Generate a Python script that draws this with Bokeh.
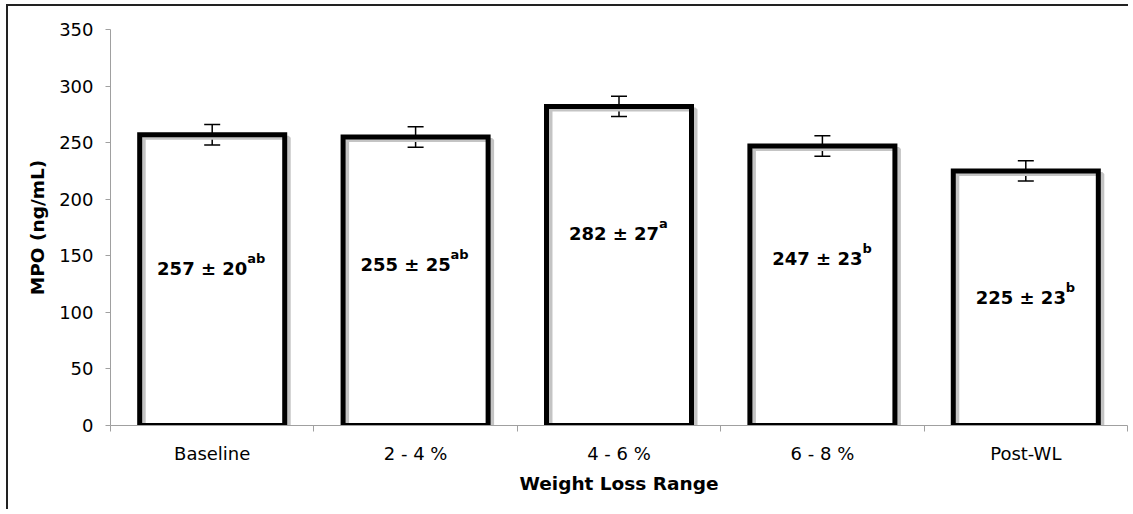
from bokeh.plotting import figure
from bokeh.models import Range1d, FixedTicker, ColumnDataSource, Whisker, TeeHead
from bokeh.core.properties import value
from bokeh.embed import file_html
from bokeh.resources import INLINE

categories = ["Baseline", "2 - 4 %", "4 - 6 %", "6 - 8 %", "Post-WL"]
means = [257, 255, 282, 247, 225]
errors = [9, 9, 9, 9, 9]
sds = [20, 25, 27, 23, 23]
letters = ["ab", "ab", "a", "b", "b"]
label_heights = [139, 142, 170, 148, 113]

FONT = "DejaVu Sans"

xs = [i + 0.5 for i in range(len(categories))]

p = figure(width=1122, height=505, output_backend="svg", toolbar_location=None,
           x_range=Range1d(0, len(categories)), y_range=Range1d(0, 350),
           min_border_left=102, min_border_top=23, min_border_bottom=86, min_border_right=3)
p.styles = {"border-top": "2px solid #222222", "border-left": "2px solid #222222",
            "margin-top": "4px", "margin-left": "6px"}
p.outline_line_color = None
p.xgrid.visible = False
p.ygrid.visible = False
p.background_fill_color = "white"
p.border_fill_color = "white"

# shadow outline (offset a few pixels right/down)
dx = 4 / 203.4
dy = 3 * 350 / 396
shadow = ColumnDataSource(dict(x=[x + dx for x in xs], top=[m - dy for m in means]))
p.vbar(x="x", top="top", bottom=0, width=0.713, source=shadow,
       fill_color=None, line_color="#c4c4c4", line_width=4)

src = ColumnDataSource(dict(x=xs, top=means,
                            upper=[m + e for m, e in zip(means, errors)],
                            lower=[m - e for m, e in zip(means, errors)]))
p.vbar(x="x", top="top", bottom=0, width=0.713, source=src,
       fill_color=None, line_color="black", line_width=5, line_join="miter")

w = Whisker(base="x", upper="upper", lower="lower", source=src,
            line_color="black", line_width=1.5,
            upper_head=TeeHead(size=16, line_color="black", line_width=1.5),
            lower_head=TeeHead(size=16, line_color="black", line_width=1.5))
p.add_layout(w)

# value labels
main_txt = [f"{m} \u00b1 {s}" for m, s in zip(means, sds)]
lab = ColumnDataSource(dict(x=xs, y=label_heights, t=main_txt, sup=letters,
                            xo_main=[-5 * len(l) for l in letters],
                            xo_sup=[45 - 5 * len(l) for l in letters]))
p.text(x="x", y="y", text="t", source=lab, x_offset="xo_main",
       text_align="center", text_baseline="middle",
       text_font=value(FONT), text_font_style="bold", text_font_size="18px",
       text_color="black")
p.text(x="x", y="y", text="sup", source=lab, x_offset="xo_sup", y_offset=-10,
       text_align="left", text_baseline="middle",
       text_font=value(FONT), text_font_style="bold", text_font_size="13px",
       text_color="black")

# axes
p.xaxis.ticker = FixedTicker(ticks=xs, minor_ticks=list(range(len(categories) + 1)))
p.xaxis.major_label_overrides = {x: c for x, c in zip(xs, categories)}
p.xaxis.major_tick_out = 0
p.xaxis.major_tick_in = 0
p.xaxis.minor_tick_out = 6
p.xaxis.minor_tick_in = 0
p.xaxis.minor_tick_line_color = "#a0a0a0"
p.xaxis.axis_line_color = "#a0a0a0"
p.xaxis.major_label_standoff = 11
p.xaxis.axis_label = "Weight Loss Range"
p.xaxis.axis_label_standoff = 6

p.yaxis.ticker = FixedTicker(ticks=list(range(0, 351, 50)))
p.yaxis.minor_tick_line_color = None
p.yaxis.major_tick_out = 5
p.yaxis.major_tick_in = 0
p.yaxis.major_tick_line_color = "#a0a0a0"
p.yaxis.axis_line_color = "#a0a0a0"
p.yaxis.major_label_standoff = 12
p.yaxis.axis_label = "MPO (ng/mL)"
p.yaxis.axis_label_standoff = 8

for ax in (p.xaxis[0], p.yaxis[0]):
    ax.major_label_text_font = FONT
    ax.major_label_text_font_size = "18px"
    ax.major_label_text_color = "black"
    ax.axis_label_text_font = FONT
    ax.axis_label_text_font_style = "bold"
    ax.axis_label_text_font_size = "18.5px"
    ax.axis_label_text_color = "black"

open("out.html", "w").write(file_html(p, INLINE))
